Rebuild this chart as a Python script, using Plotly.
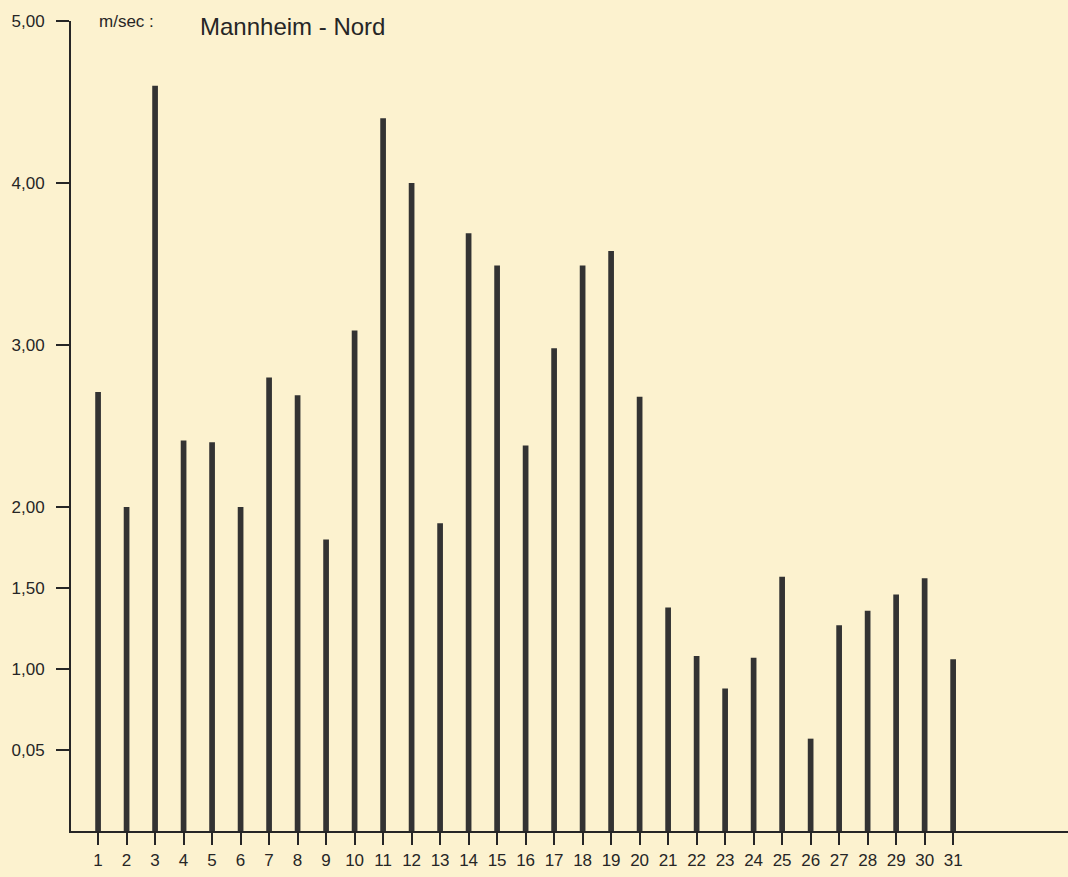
import plotly.graph_objects as go

days = list(range(1, 32))
speeds = [2.71, 2.00, 4.60, 2.41, 2.40, 2.00, 2.80, 2.69, 1.80, 3.09,
          4.40, 4.00, 1.90, 3.69, 3.49, 2.38, 2.98, 3.49, 3.58, 2.68,
          1.38, 1.08, 0.88, 1.07, 1.57, 0.57, 1.27, 1.36, 1.46, 1.56, 1.06]
y_tickvals = [0.5, 1.0, 1.5, 2.0, 3.0, 4.0, 5.0]
y_ticktext = ["0,05", "1,00", "1,50", "2,00", "3,00", "4,00", "5,00"]
title_text = "Mannheim - Nord"
unit_text = "m/sec :"

bg = "#FCF2CF"
ink = "#262626"

fig = go.Figure()
fig.add_trace(go.Bar(x=days, y=speeds, width=0.2,
                     marker=dict(color="#333333", line=dict(width=0))))

fig.update_layout(
    width=1068, height=877,
    paper_bgcolor=bg, plot_bgcolor=bg,
    margin=dict(l=71, r=0, t=21, b=46),
    showlegend=False,
    font=dict(family="Liberation Sans, Arial, sans-serif", color=ink, size=17),
    xaxis=dict(range=[0.05, 35.03], tickmode="array", tickvals=days,
               ticktext=[str(d) for d in days], ticks="outside", ticklen=12,
               tickwidth=1.5, tickcolor=ink, showline=True, linecolor=ink,
               linewidth=2, showgrid=False, zeroline=False,
               tickfont=dict(size=17, color=ink), ticklabelstandoff=1),
    yaxis=dict(range=[0, 5.0], tickmode="array", tickvals=y_tickvals,
               ticktext=y_ticktext, ticks="outside", ticklen=13,
               tickwidth=1.5, tickcolor=ink, showline=True, linecolor=ink,
               linewidth=2, showgrid=False, zeroline=False,
               tickfont=dict(size=17, color=ink), ticklabelstandoff=8),
    annotations=[
        dict(text=title_text, xref="paper", yref="paper",
             x=(198 - 71) / 997, y=1 + (21 - 26) / 810, xanchor="left",
             yanchor="middle", showarrow=False,
             font=dict(size=24, color=ink)),
        dict(text=unit_text, xref="paper", yref="paper",
             x=(97 - 71) / 997, y=1 + (21 - 22) / 810, xanchor="left",
             yanchor="middle", showarrow=False,
             font=dict(size=17, color=ink)),
    ],
)

fig.write_html("out.html", config={"displayModeBar": False},
               post_script="document.body.style.margin='0';document.body.style.background='%s';" % bg)
